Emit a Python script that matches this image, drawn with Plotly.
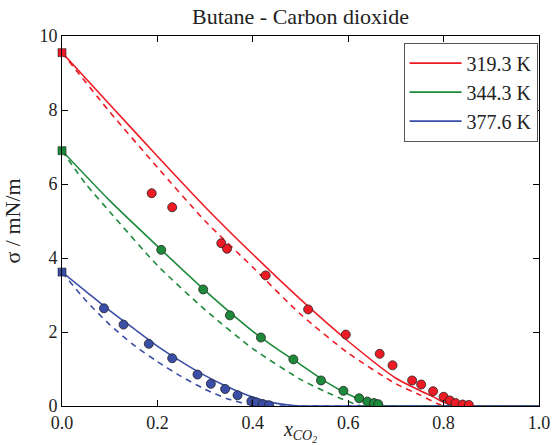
import plotly.graph_objects as go

# ---- data ----
temps = ["319.3 K", "344.3 K", "377.6 K"]
colors = ["#ee1b24", "#1c8a3a", "#3a4ea8"]

# experimental points
exp_x_319 = [0.188, 0.231, 0.334, 0.346, 0.427, 0.516, 0.595, 0.666, 0.693, 0.734, 0.753, 0.778, 0.800, 0.813, 0.825, 0.840, 0.853]
exp_y_319 = [5.75, 5.37, 4.40, 4.25, 3.53, 2.61, 1.93, 1.41, 1.10, 0.69, 0.58, 0.40, 0.25, 0.15, 0.08, 0.04, 0.03]
exp_x_344 = [0.208, 0.296, 0.352, 0.417, 0.485, 0.543, 0.590, 0.623, 0.640, 0.654, 0.663]
exp_y_344 = [4.22, 3.15, 2.45, 1.85, 1.26, 0.69, 0.41, 0.21, 0.12, 0.08, 0.05]
exp_x_377 = [0.088, 0.129, 0.182, 0.231, 0.284, 0.312, 0.342, 0.368, 0.397, 0.406, 0.421, 0.434]
exp_y_377 = [2.64, 2.20, 1.68, 1.29, 0.85, 0.60, 0.46, 0.29, 0.13, 0.10, 0.05, 0.02]

# pure-component values (squares at x=0)
pure_y = [9.55, 6.90, 3.62]

# model curves (solid)
sol_x_319 = [0.0, 0.1, 0.2, 0.3, 0.4, 0.5, 0.6, 0.7, 0.75, 0.78, 0.8, 0.82, 0.85, 1.0]
sol_y_319 = [9.55, 8.15, 6.75, 5.38, 4.10, 2.88, 1.75, 0.75, 0.42, 0.24, 0.10, 0.02, 0.0, 0.0]
sol_x_344 = [0.0, 0.1, 0.2, 0.3, 0.4, 0.45, 0.5, 0.55, 0.6, 0.65, 0.68, 0.75, 1.0]
sol_y_344 = [6.90, 5.55, 4.32, 3.12, 2.02, 1.55, 1.12, 0.68, 0.32, 0.07, 0.0, 0.0, 0.0]
sol_x_377 = [0.0, 0.05, 0.1, 0.15, 0.2, 0.25, 0.3, 0.35, 0.4, 0.45, 0.5, 0.6, 1.0]
sol_y_377 = [3.62, 3.10, 2.58, 2.10, 1.62, 1.20, 0.82, 0.50, 0.24, 0.07, 0.0, 0.0, 0.0]

# model curves (dashed)
das_x_319 = [0.0, 0.1, 0.2, 0.3, 0.4, 0.5, 0.6, 0.7, 0.75, 0.79, 0.81, 0.9, 1.0]
das_y_319 = [9.55, 7.95, 6.45, 5.00, 3.75, 2.48, 1.43, 0.60, 0.30, 0.05, 0.0, 0.0, 0.0]
das_x_344 = [0.0, 0.05, 0.1, 0.2, 0.3, 0.4, 0.5, 0.55, 0.6, 0.63, 0.7, 1.0]
das_y_344 = [6.90, 6.00, 5.25, 3.80, 2.60, 1.55, 0.72, 0.40, 0.12, 0.0, 0.0, 0.0]
das_x_377 = [0.0, 0.05, 0.1, 0.15, 0.2, 0.25, 0.3, 0.35, 0.4, 0.42, 0.5, 1.0]
das_y_377 = [3.62, 2.85, 2.20, 1.65, 1.20, 0.80, 0.45, 0.18, 0.02, 0.0, 0.0, 0.0]

x_ticks = [0.0, 0.2, 0.4, 0.6, 0.8, 1.0]
x_tick_text = ["0.0", "0.2", "0.4", "0.6", "0.8", "1.0"]
y_ticks = [0, 2, 4, 6, 8, 10]

solids = [(sol_x_319, sol_y_319), (sol_x_344, sol_y_344), (sol_x_377, sol_y_377)]
dashes = [(das_x_319, das_y_319), (das_x_344, das_y_344), (das_x_377, das_y_377)]
exps = [(exp_x_319, exp_y_319), (exp_x_344, exp_y_344), (exp_x_377, exp_y_377)]

FONT = "Times New Roman, Liberation Serif, serif"
fig = go.Figure()

for i in range(3):
    fig.add_trace(go.Scatter(x=solids[i][0], y=solids[i][1], mode="lines", name=temps[i],
                             line=dict(color=colors[i], width=1.6, shape="spline", smoothing=0.6)))
for i in range(3):
    fig.add_trace(go.Scatter(x=dashes[i][0], y=dashes[i][1], mode="lines", showlegend=False,
                             line=dict(color=colors[i], width=1.6, dash="6px,5px", shape="spline", smoothing=0.6)))
for i in range(3):
    fig.add_trace(go.Scatter(x=exps[i][0], y=exps[i][1], mode="markers", showlegend=False,
                             marker=dict(color=colors[i], size=9, symbol="circle",
                                         line=dict(color="#222222", width=0.8))))
    fig.add_trace(go.Scatter(x=[0.0], y=[pure_y[i]], mode="markers", showlegend=False, cliponaxis=False,
                             marker=dict(color=colors[i], size=8, symbol="square",
                                         line=dict(color="#222222", width=0.6))))

axis_common = dict(showgrid=False, zeroline=False, showline=True, linecolor="black", linewidth=1,
                   mirror="ticks", ticks="inside", ticklen=6, tickcolor="black", automargin=False,
                   tickfont=dict(family=FONT, size=18, color="#222222"))

fig.update_layout(
    width=553, height=445,
    margin=dict(l=62, r=14, t=36, b=39, autoexpand=False),
    paper_bgcolor="white", plot_bgcolor="white",
    title=dict(text="Butane - Carbon dioxide", x=0.5434, xanchor="center", y=0.945, yanchor="bottom",
               font=dict(family=FONT, size=22, color="#222222")),
    xaxis=dict(range=[0, 1], tickvals=x_ticks, ticktext=x_tick_text,
               title=dict(text="<i>x<sub>CO<sub>2</sub></sub></i>", standoff=4,
                          font=dict(family=FONT, size=20, color="#222222")), **axis_common),
    yaxis=dict(range=[0, 10], tickvals=y_ticks,
               title=dict(text="σ / mN/m", standoff=12, font=dict(family=FONT, size=22, color="#222222")),
               **axis_common),
    legend=dict(x=0.997, y=0.982, xanchor="right", yanchor="top", bgcolor="white",
                bordercolor="#555555", borderwidth=1, itemwidth=52,
                font=dict(family=FONT, size=20, color="#222222"), tracegroupgap=4),
    showlegend=True,
)

fig.write_html("out.html")
